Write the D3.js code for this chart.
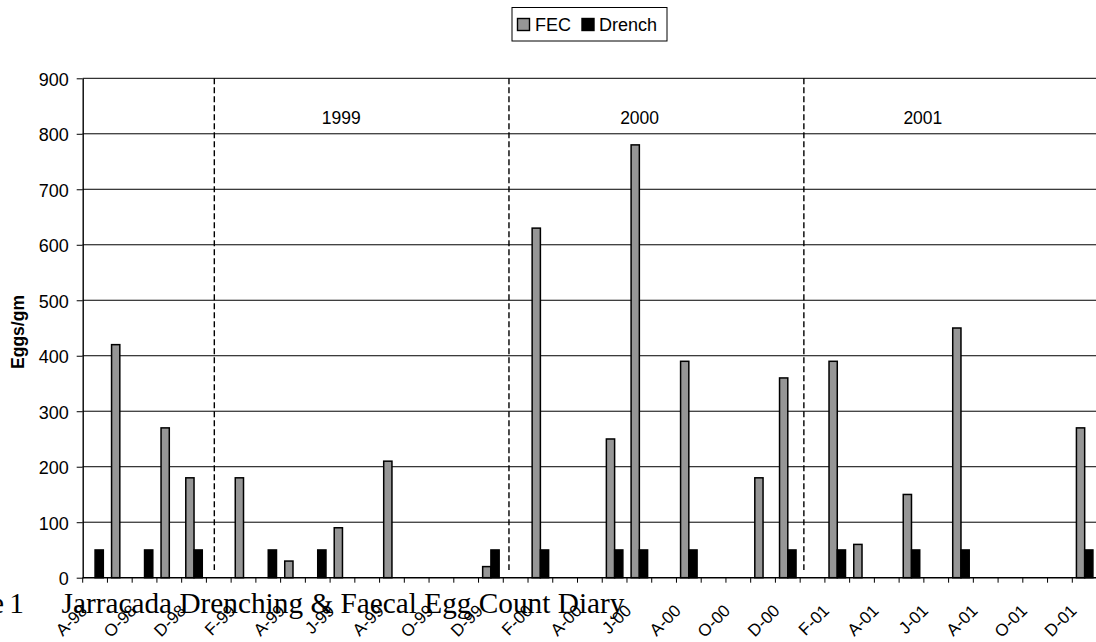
<!DOCTYPE html>
<html>
<head>
<meta charset="utf-8">
<script src="https://cdn.jsdelivr.net/npm/d3@7"></script>
<style>
  html, body { margin: 0; padding: 0; background: #fff; }
  svg { display: block; }
  text { font-family: "Liberation Sans", Arial, sans-serif; fill: #000; }
</style>
</head>
<body>
<svg id="chart" width="1096" height="642"></svg>
<script>
// Monthly sampling periods, Aug 1998 – Dec 2001
const months = [
  "A-98","S-98","O-98","N-98","D-98",
  "J-99","F-99","M-99","A-99","M-99","J-99","J-99","A-99","S-99","O-99","N-99","D-99",
  "J-00","F-00","M-00","A-00","M-00","J-00","J-00","A-00","S-00","O-00","N-00","D-00",
  "J-01","F-01","M-01","A-01","M-01","J-01","J-01","A-01","S-01","O-01","N-01","D-01"
];
// Faecal egg counts (eggs/gm); 0 = no count taken
const fec = [
  0, 420, 0, 270, 180,
  0, 180, 0, 30, 0, 90, 0, 210, 0, 0, 0, 20,
  0, 630, 0, 0, 250, 780, 0, 390, 0, 0, 180, 360,
  0, 390, 60, 0, 150, 0, 450, 0, 0, 0, 0, 270
];
// Drench events, plotted at a nominal 50
const drench = [
  50, 0, 50, 0, 50,
  0, 0, 50, 0, 50, 0, 0, 0, 0, 0, 0, 50,
  0, 50, 0, 0, 50, 50, 0, 50, 0, 0, 0, 50,
  0, 50, 0, 0, 50, 0, 50, 0, 0, 0, 0, 50
];
const seriesNames = ["FEC", "Drench"];
const yTicks = [0, 100, 200, 300, 400, 500, 600, 700, 800, 900];
// Year boundaries and year captions, in month-index units
const yearDividers = [5.32, 17.23, 29.15];
const yearLabels = ["1999", "2000", "2001"];
const yearLabelPos = [10.45, 22.51, 33.96];

const svg = d3.select("#chart");
const plotLeft = 82.7, plotTop = 78.3, plotBottom = 577.7;
const step = 24.74;
const plotRight = plotLeft + months.length * step;

const x = d3.scaleBand().domain(d3.range(months.length)).range([plotLeft, plotRight]).padding(0);
const xi = d3.scaleLinear().domain([0, months.length]).range([plotLeft, plotRight]);
const inner = d3.scaleBand().domain(seriesNames).range([0, x.bandwidth()])
  .paddingInner(0).paddingOuter(0.5);
const y = d3.scaleLinear().domain([0, 900]).range([plotBottom, plotTop]);

// Horizontal gridlines
svg.append("g").selectAll("line").data(yTicks.filter(d => d > 0)).join("line")
  .attr("x1", plotLeft).attr("x2", plotRight)
  .attr("y1", d => y(d)).attr("y2", d => y(d))
  .attr("stroke", "#000").attr("stroke-width", 1);

// Year divider lines and captions
svg.append("g").selectAll("line").data(yearDividers).join("line")
  .attr("x1", d => xi(d)).attr("x2", d => xi(d))
  .attr("y1", y(900)).attr("y2", y(14))
  .attr("stroke", "#000").attr("stroke-width", 1.4)
  .attr("stroke-dasharray", "6,3");
svg.append("g").selectAll("text").data(yearLabels).join("text")
  .attr("x", (d, i) => xi(yearLabelPos[i]))
  .attr("y", 123.5)
  .attr("text-anchor", "middle")
  .attr("font-size", 17.5)
  .text(d => d);

// Bars
const rows = months.map((m, i) => ({ i, FEC: fec[i], Drench: drench[i] }));
const colors = { FEC: "#969696", Drench: "#000" };
const groups = svg.append("g").selectAll("g").data(rows).join("g")
  .attr("transform", d => `translate(${x(d.i)},0)`);
groups.selectAll("rect")
  .data(d => seriesNames.map(k => ({ key: k, value: d[k] })).filter(e => e.value > 0))
  .join("rect")
  .attr("x", e => inner(e.key))
  .attr("width", inner.bandwidth())
  .attr("y", e => y(e.value))
  .attr("height", e => y(0) - y(e.value))
  .attr("fill", e => colors[e.key])
  .attr("stroke", "#000").attr("stroke-width", 1.5);

// Y axis
const yAxis = d3.axisLeft(y).tickValues(yTicks).tickSize(6).tickPadding(8).tickSizeOuter(0);
const ya = svg.append("g").attr("transform", `translate(${plotLeft},0)`).call(yAxis);
ya.select(".domain").attr("stroke", "#000").attr("stroke-width", 1.4);
ya.selectAll(".tick line").attr("stroke", "#000");
ya.selectAll(".tick text").attr("font-size", 18).attr("font-family", "Liberation Sans, Arial, sans-serif")
  .attr("fill", "#000").attr("dy", "0.4em");

// X axis: baseline, a tick at every month boundary, label on every second month
svg.append("line").attr("x1", plotLeft).attr("x2", plotRight).attr("y1", plotBottom).attr("y2", plotBottom)
  .attr("stroke", "#000").attr("stroke-width", 1.4);
svg.append("g").selectAll("line").data(d3.range(months.length + 1)).join("line")
  .attr("x1", d => xi(d)).attr("x2", d => xi(d))
  .attr("y1", plotBottom).attr("y2", plotBottom + 5)
  .attr("stroke", "#000");
svg.append("g").selectAll("text")
  .data(months.map((m, i) => ({ m, i })).filter(d => d.i % 2 === 0))
  .join("text")
  .attr("transform", d => `translate(${x(d.i) + x.bandwidth() / 2 - 7},${plotBottom + 34}) rotate(-45)`)
  .attr("text-anchor", "end")
  .attr("font-size", 17)
  .text(d => d.m);

// Axis title
svg.append("text")
  .attr("transform", `translate(24,332) rotate(-90)`)
  .attr("text-anchor", "middle")
  .attr("font-size", 17.5).attr("font-weight", "bold")
  .text("Eggs/gm");

// Legend
const lg = svg.append("g");
lg.append("rect").attr("x", 512).attr("y", 7.5).attr("width", 155).attr("height", 33.5)
  .attr("fill", "#fff").attr("stroke", "#000").attr("stroke-width", 1);
const legendItems = [
  { key: "FEC", sx: 517.5, tx: 535 },
  { key: "Drench", sx: 582, tx: 599 }
];
legendItems.forEach(it => {
  lg.append("rect").attr("x", it.sx).attr("y", 18.5).attr("width", 12).attr("height", 12)
    .attr("fill", colors[it.key]).attr("stroke", "#000").attr("stroke-width", 1.4);
  lg.append("text").attr("x", it.tx).attr("y", 30.7).attr("font-size", 18).text(it.key);
});

// Caption beneath the chart
svg.append("text").attr("x", 24).attr("y", 613).attr("text-anchor", "end")
  .style("font-family", "'Liberation Serif', 'Times New Roman', serif")
  .style("word-spacing", "-2px")
  .attr("font-size", 29.3).text("Figure 1");
svg.append("text").attr("x", 61.5).attr("y", 613)
  .style("font-family", "'Liberation Serif', 'Times New Roman', serif")
  .attr("font-size", 29.3).text("Jarracada Drenching & Faecal Egg Count Diary");
</script>
</body>
</html>
